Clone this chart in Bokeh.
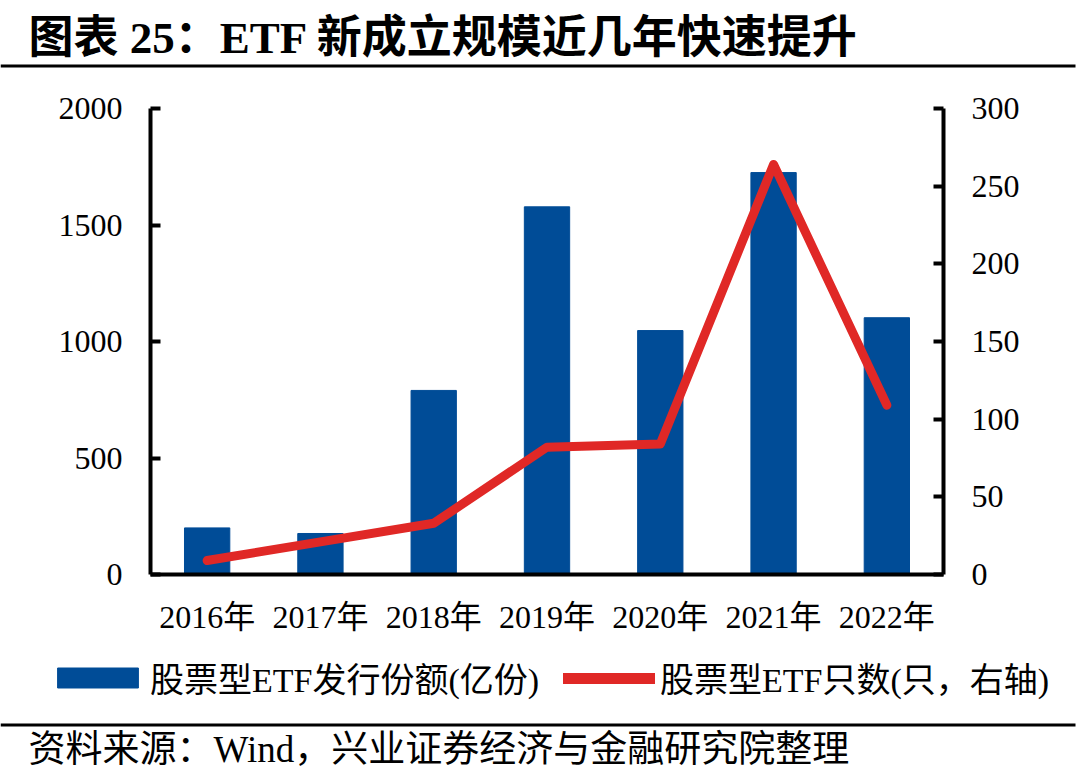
from bokeh.plotting import figure
from bokeh.models import (Range1d, FactorRange, LinearAxis, FixedTicker, Label,
                          Legend, LegendItem, BoxAnnotation, ColumnDataSource)
from bokeh.embed import file_html
from bokeh.resources import INLINE

years = ["2016年", "2017年", "2018年", "2019年", "2020年", "2021年", "2022年"]
shares = [200, 176, 790, 1578, 1047, 1725, 1102]   # 股票型ETF发行份额(亿份)
counts = [9, 21, 33, 82, 84, 264, 109]            # 股票型ETF只数(只)
left_ticks = [0, 500, 1000, 1500, 2000]
right_ticks = [0, 50, 100, 150, 200, 250, 300]

title_text = "图表 25：ETF 新成立规模近几年快速提升"
source_text = "资料来源：Wind，兴业证券经济与金融研究院整理"
bar_label = "股票型ETF发行份额(亿份)"
line_label = "股票型ETF只数(只，右轴)"

BLUE = "#004C97"
RED = "#E02826"
FONT = "Liberation Serif, Noto Sans CJK SC"
W = 1080
NAN = float("nan")


def deco_fig(h):
    f = figure(width=W, height=h, output_backend="svg", toolbar_location=None,
               x_range=Range1d(0, W), y_range=Range1d(h, 0),
               min_border_left=0, min_border_right=0, min_border_top=0,
               min_border_bottom=0)
    f.axis.visible = False
    f.grid.visible = False
    f.outline_line_color = None
    return f


# ---- top: title ----
top = deco_fig(70)
top.add_layout(Label(x=28, y=37, text=title_text, text_font=FONT,
                     text_font_size="45px", text_font_style="bold",
                     text_baseline="middle", text_color="black"))
top.add_layout(BoxAnnotation(left=0, right=1075, top=64, bottom=67,
                             fill_color="black", fill_alpha=1, line_color=None))

# ---- main chart ----
src = ColumnDataSource(dict(x=years, shares=shares, counts=counts))
p = figure(width=W, height=570, output_backend="svg", toolbar_location=None,
           x_range=FactorRange(*years, range_padding=0), y_range=Range1d(0, 2000),
           min_border_left=150, min_border_right=137, min_border_top=38,
           min_border_bottom=66)
p.extra_y_ranges = {"right": Range1d(0, 300)}
p.outline_line_color = None
p.xgrid.visible = False
p.ygrid.visible = False

p.vbar(x="x", top="shares", width=0.4, source=src, color=BLUE)
p.line(x="x", y="counts", source=src, y_range_name="right",
       line_color=RED, line_width=9, line_cap="round", line_join="round")

yl = p.yaxis[0]
yl.ticker = FixedTicker(ticks=left_ticks)
yr = LinearAxis(y_range_name="right", ticker=FixedTicker(ticks=right_ticks))
p.add_layout(yr, "right")
for ax in (yl, yr):
    ax.axis_line_width = 4
    ax.axis_line_color = "black"
    ax.major_tick_in = 10
    ax.major_tick_out = 0
    ax.major_tick_line_width = 4
    ax.minor_tick_line_color = None
    ax.major_label_text_font = FONT
    ax.major_label_text_font_size = "32px"
    ax.major_label_text_color = "black"
    ax.major_label_standoff = 28

xa = p.xaxis[0]
xa.axis_line_width = 4
xa.axis_line_color = "black"
xa.major_tick_line_color = None
xa.minor_tick_line_color = None
xa.major_label_text_font = FONT
xa.major_label_text_font_size = "32px"
xa.major_label_text_color = "black"
xa.major_label_standoff = 18

# ---- bottom: legend + source ----
BH = 132
bot = deco_fig(BH)
lb = bot.vbar(x=[NAN], top=[NAN], width=1, color=BLUE)
ll = bot.line(x=[NAN], y=[NAN], line_color=RED, line_width=11, line_cap="round")
lg1 = Legend(items=[LegendItem(label=bar_label, renderers=[lb])], location=(47, 70),
             glyph_width=101, glyph_height=25, label_standoff=2)
lg2 = Legend(items=[LegendItem(label=line_label, renderers=[ll])], location=(563, 70),
             glyph_width=92, glyph_height=20, label_standoff=5)
for lg in (lg1, lg2):
    lg.border_line_color = None
    lg.background_fill_alpha = 0
    lg.padding = 0
    lg.margin = 0
    lg.spacing = 0
    lg.label_text_font = FONT
    lg.label_text_font_size = "34px"
    lg.label_text_color = "black"
    bot.add_layout(lg, "center")
bot.add_layout(BoxAnnotation(left=0, right=1075, top=83, bottom=86,
                             fill_color="black", fill_alpha=1, line_color=None))
bot.add_layout(Label(x=28, y=109, text=source_text, text_font=FONT,
                     text_font_size="37px", text_baseline="middle",
                     text_color="black"))

open("out.html", "w").write(file_html([top, p, bot], INLINE))
